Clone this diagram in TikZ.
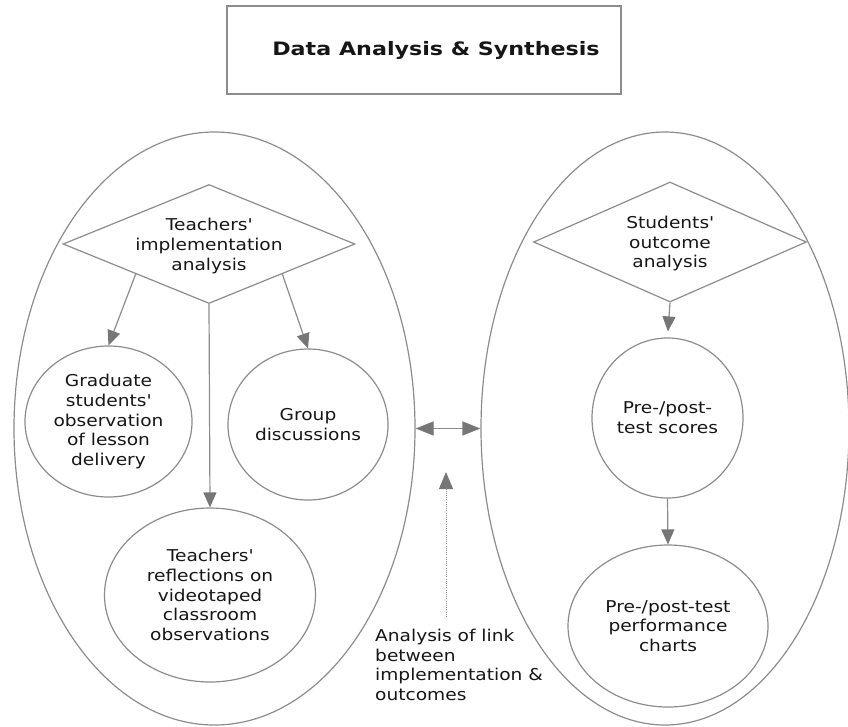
\documentclass[tikz,border=0pt]{standalone}
\usepackage{fontspec}
\setmainfont[FakeStretch=1.14]{DejaVu Sans}
\newfontfamily\headfont[FakeStretch=1.2]{DejaVu Sans}
\usetikzlibrary{shapes.geometric,arrows.meta}
\definecolor{linegray}{RGB}{140,140,140}
\definecolor{headgray}{RGB}{118,118,118}
\definecolor{inkblack}{RGB}{22,22,22}
% straight apostrophe, as printed in the labels
\newcommand{\apos}{\textquotesingle}

\begin{document}
\begin{tikzpicture}[x=1pt,y=-1pt,
  every node/.style={text=inkblack, font=\fontsize{16.3}{19.8}\selectfont},
  frame/.style={draw=linegray, line width=1.2pt},
  cluster/.style={ellipse, frame, inner sep=0pt},
  decision/.style={diamond, frame, inner sep=0pt},
  topic/.style={ellipse, frame, inner sep=0pt, align=center},
  caption/.style={align=center, inner sep=0pt},
  flow/.style={draw=linegray, line width=1.2pt,
    -{Triangle[length=15pt,width=13pt,color=headgray]}},
  link/.style={draw=linegray, line width=1.2pt,
    {Triangle[length=18pt,width=14pt,color=headgray]}-{Triangle[length=18pt,width=14pt,color=headgray]}},
  hint/.style={draw=linegray, line width=1pt, dash pattern=on 1pt off 1.2pt,
    -{Triangle[length=17pt,width=14pt,color=headgray]}}
]
\useasboundingbox (0,0) rectangle (848,726);

% title
\node[draw=linegray, line width=1.5pt, minimum width=394pt, minimum height=88pt,
      font=\headfont\fontsize{18.5}{22}\selectfont\bfseries] (title) at (424,50)
      {\hspace*{24pt}Data Analysis \& Synthesis};

% two groups
\node[cluster, minimum width=401pt, minimum height=593pt] (left) at (214.5,428.5) {};
\node[cluster, minimum width=368pt, minimum height=593pt] (right) at (665,428.5) {};

% teachers' side
\node[decision, minimum width=292pt, minimum height=119pt] (tdia) at (209,244) {};
\node[caption] (ttext) at (209,246) {Teachers\apos\\implementation\\analysis};

\node[topic, minimum width=167pt, minimum height=151pt] (grad) at (108.5,421.5)
  {Graduate\\students\apos\\observation\\of lesson\\delivery};
\node[topic, minimum width=160pt, minimum height=151pt] (disc) at (308,424.5)
  {Group\\discussions};
\node[topic, minimum width=211pt, minimum height=174pt] (refl) at (210,595)
  {Teachers\apos\\reflections on\\videotaped\\classroom\\observations};

\draw[flow] (tdia.south west) -- (grad.north);
\draw[flow] (tdia.south east) -- (disc.north);
\draw[flow] (tdia.south) -- (refl.north);

% students' side
\node[decision, minimum width=273pt, minimum height=120pt] (sdia) at (670,242) {};
\node[caption] (stext) at (670,243.5) {Students\apos\\outcome\\analysis};

\node[topic, minimum width=151pt, minimum height=160pt] (scores) at (667.5,418)
  {Pre-/post-\\test scores};
\node[topic, minimum width=200pt, minimum height=162pt] (charts) at (668,626)
  {Pre-/post-test\\performance\\charts};

\draw[flow, shorten >=6pt] (sdia.south) -- (scores.north);
\draw[flow] (scores.south) -- (charts.north);

% link between the groups
\draw[link] (left.east) -- (right.west);
\coordinate (hintfoot) at (446,617);
\coordinate (hinttip) at (446,472);
\draw[hint] (hintfoot) -- (hinttip);
\node[align=left, inner sep=0pt, anchor=west] (note) at (375,665)
  {Analysis of link\\between\\implementation \&\\outcomes};
\end{tikzpicture}
\end{document}
